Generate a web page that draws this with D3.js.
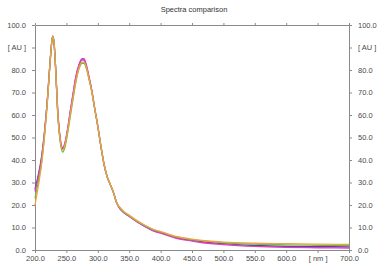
<!DOCTYPE html>
<html>
<head>
<meta charset="utf-8">
<script src="https://cdn.jsdelivr.net/npm/d3@7"></script>
<style>
  html, body { margin: 0; padding: 0; background: #fff; }
  svg { display: block; font-family: "Liberation Sans", Arial, sans-serif; }
  .tick text { fill: #4a4a4a; font-size: 7.5px; }
  .domain, .tick line { stroke: #8a8a8a; }
</style>
</head>
<body>
<svg id="chart" width="383" height="273"></svg>
<script>
const title = "Spectra comparison"
const wavelengths = [200, 205, 210, 215, 220, 225, 228, 230, 233, 236, 240, 244, 248, 252, 256, 260, 265, 270, 275, 278, 282, 286, 290, 295, 300, 305, 310, 315, 320, 325, 330, 335, 340, 350, 360, 375, 390, 400, 425, 450, 475, 500, 550, 600, 650, 700]
const purple = [27, 33, 40.5, 52, 68, 87, 95, 93, 80, 62.5, 49.5, 45, 47.5, 53.5, 61, 68, 76.5, 82, 84.5, 84.5, 81.5, 76.5, 71.5, 63, 55, 46, 38, 32.5, 29, 25.5, 21, 18.5, 17, 15, 13, 10.5, 8.5, 7.7, 5.5, 4.3, 3.4, 2.8, 2, 1.6, 1.5, 1.4]
const magenta = [26, 32, 40, 52, 68, 87, 95, 93, 80, 63, 50, 45.5, 48, 54, 61.5, 68.5, 77, 82.5, 85, 85, 82, 77, 71.5, 63, 55, 46, 38, 32.5, 29, 25.5, 21, 18.5, 17, 15, 13, 10.5, 8.3, 7.5, 5.2, 4, 3, 2.4, 1.6, 1.2, 1, 0.9]
const green = [23, 30, 38, 50.5, 67, 87, 95, 93, 80, 61.5, 48.5, 43.5, 46, 52, 59, 66, 74.5, 80.5, 83, 83, 80.5, 76, 71, 63, 55, 46, 38, 32.5, 29, 25.5, 21, 18.8, 17.2, 15.2, 13.2, 10.8, 8.8, 8, 5.8, 4.6, 3.8, 3.2, 2.6, 2.3, 2.1, 2]
const orange = [20, 28, 37, 50, 67, 87, 95, 93, 80, 62, 49, 44.5, 47, 53, 60, 67, 75, 81, 83.5, 83.5, 81, 76, 71, 63, 55, 46, 38, 32.5, 29, 25.5, 21, 19, 17.5, 15.5, 13.5, 11, 9, 8.2, 6, 4.8, 4, 3.5, 3, 2.8, 2.6, 2.5]
const seriesNames = ["purple", "magenta", "green", "orange"]
const seriesColors = ["#5b3cb4", "#e23cbe", "#5fc23c", "#f2a044"]
const xTicks = [200, 250, 300, 350, 400, 450, 500, 550, 600, 650, 700]
const xTickLabels = ["200.0", "250.0", "300.0", "350.0", "400.0", "450.0", "500.0", "550.0", "600.0", "[ nm ]", "700.0"]
const yTicks = [0, 10, 20, 30, 40, 50, 60, 70, 80, 90, 100]
const yTickLabels = ["0.0", "10.0", "20.0", "30.0", "40.0", "50.0", "60.0", "70.0", "80.0", "[ AU ]", "100.0"]

const width = 383, height = 273
const margin = {top: 25, right: 34, bottom: 23, left: 35}
const values = [purple, magenta, green, orange]

const svg = d3.select("#chart")

const x = d3.scaleLinear([200, 700], [margin.left, width - margin.right])
const y = d3.scaleLinear([0, 100], [height - margin.bottom, margin.top])

svg.append("text")
    .attr("x", (margin.left + width - margin.right) / 2 + 2)
    .attr("y", 12)
    .attr("text-anchor", "middle")
    .attr("fill", "#333")
    .style("font-size", "7.5px")
    .text(title)

const xFmt = (d, i) => xTickLabels[i]
const yFmt = (d, i) => yTickLabels[i]

svg.append("g")
    .attr("transform", `translate(0, ${y(0)})`)
    .call(d3.axisBottom(x).tickValues(xTicks).tickFormat(xFmt).tickSize(3).tickSizeOuter(0).tickPadding(3))

svg.append("g")
    .attr("transform", `translate(0, ${y(100)})`)
    .call(d3.axisTop(x).tickValues(xTicks).tickFormat("").tickSize(2).tickSizeOuter(0))

svg.append("g")
    .attr("transform", `translate(${x(200)}, 0)`)
    .call(d3.axisLeft(y).tickValues(yTicks).tickFormat(yFmt).tickSize(3).tickSizeOuter(0).tickPadding(6))

svg.append("g")
    .attr("transform", `translate(${x(700)}, 0)`)
    .call(d3.axisRight(y).tickValues(yTicks).tickFormat(yFmt).tickSize(3).tickSizeOuter(0).tickPadding(6))

const line = d3.line()
    .x((d, i) => x(wavelengths[i]))
    .y(d => y(d))
    .curve(d3.curveMonotoneX)

svg.append("g")
    .attr("fill", "none")
    .attr("stroke-width", 1.3)
    .selectAll("path")
    .data(values)
    .join("path")
    .attr("class", (d, i) => seriesNames[i])
    .attr("stroke", (d, i) => seriesColors[i])
    .attr("d", line)
</script>
</body>
</html>
